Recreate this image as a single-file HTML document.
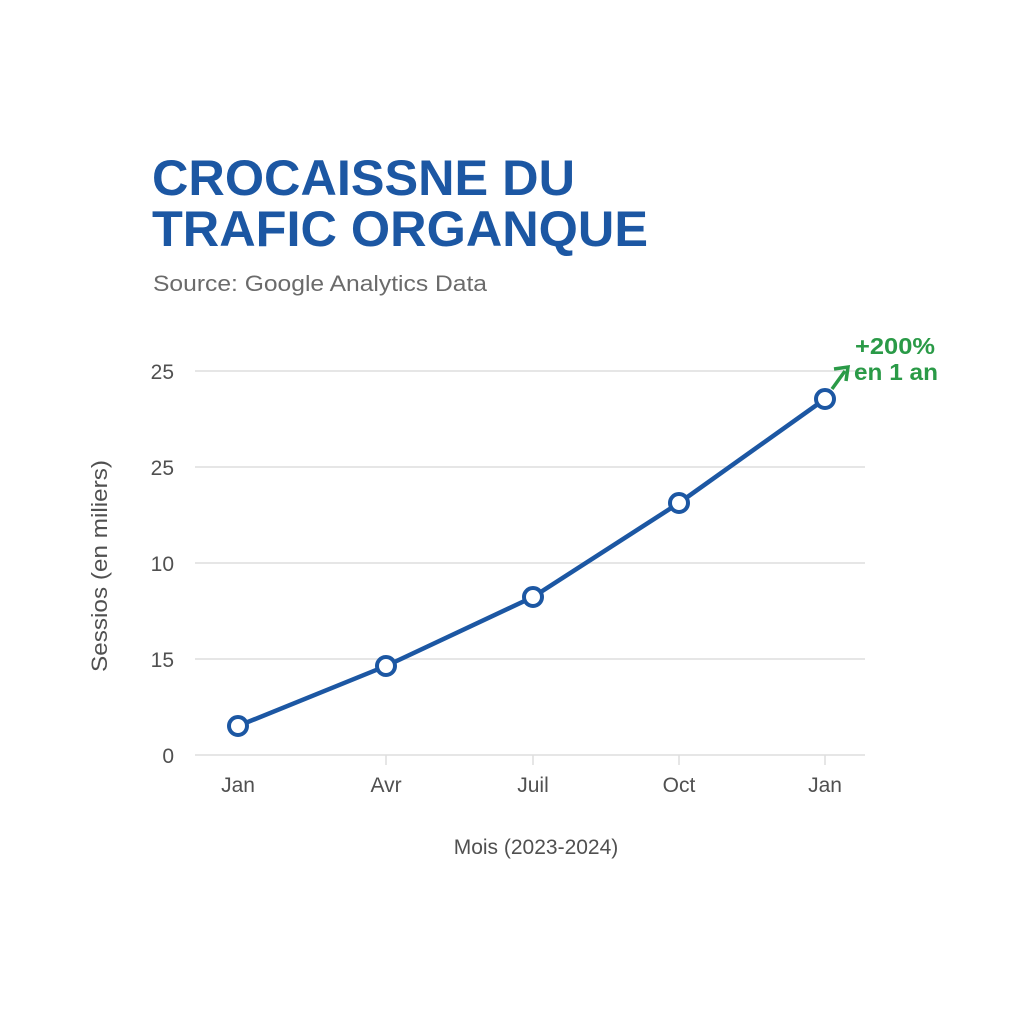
<!DOCTYPE html>
<html><head><style>
html,body{margin:0;padding:0;background:#fff;}
svg{display:block;}
</style></head><body>
<svg width="1024" height="1024" viewBox="0 0 1024 1024" xmlns="http://www.w3.org/2000/svg">
<rect width="1024" height="1024" fill="#fff"/>
<g font-family="Liberation Sans, sans-serif">
<text x="152" y="195" font-size="50" font-weight="bold" fill="#1c57a3" textLength="423" lengthAdjust="spacingAndGlyphs">CROCAISSNE DU</text>
<text x="152" y="246" font-size="50" font-weight="bold" fill="#1c57a3" textLength="496" lengthAdjust="spacingAndGlyphs">TRAFIC ORGANQUE</text>
<text x="153" y="291" font-size="22" fill="#6b6b6b" textLength="334" lengthAdjust="spacingAndGlyphs">Source: Google Analytics Data</text>
<g stroke="#dedede" stroke-width="1.5">
<line x1="195" y1="371" x2="865" y2="371"/>
<line x1="195" y1="467" x2="865" y2="467"/>
<line x1="195" y1="563" x2="865" y2="563"/>
<line x1="195" y1="659" x2="865" y2="659"/>
<line x1="195" y1="755" x2="865" y2="755"/>
</g>
<g stroke="#dedede" stroke-width="1.5">
<line x1="386" y1="755" x2="386" y2="765"/><line x1="533" y1="755" x2="533" y2="765"/>
<line x1="679" y1="755" x2="679" y2="765"/><line x1="825" y1="755" x2="825" y2="765"/>
</g>
<g font-size="21" fill="#505050" text-anchor="end">
<text x="174" y="379">25</text><text x="174" y="475">25</text><text x="174" y="571">10</text>
<text x="174" y="667">15</text><text x="174" y="763">0</text>
</g>
<g font-size="21" fill="#505050" text-anchor="middle">
<text x="238" y="792">Jan</text><text x="386" y="792">Avr</text><text x="533" y="792">Juil</text>
<text x="679" y="792">Oct</text><text x="825" y="792">Jan</text>
<text x="536" y="854">Mois (2023-2024)</text>
<text transform="translate(107,566) rotate(-90)" font-size="22" textLength="212" lengthAdjust="spacingAndGlyphs">Sessios (en miliers)</text>
</g>
<polyline points="238,726 386,666 533,597 679,503 825,399" fill="none" stroke="#1c57a3" stroke-width="4.5" stroke-linejoin="round"/>
<g fill="#fff" stroke="#1c57a3" stroke-width="4">
<circle cx="238" cy="726" r="9"/><circle cx="386" cy="666" r="9"/><circle cx="533" cy="597" r="9"/>
<circle cx="679" cy="503" r="9"/><circle cx="825" cy="399" r="9"/>
</g>
<line x1="832" y1="389" x2="845" y2="371" stroke="#2a9a47" stroke-width="3.5"/>
<polyline points="834,369 848,367 846,381" fill="none" stroke="#2a9a47" stroke-width="3.5"/>
<g font-size="23" font-weight="bold" fill="#2a9a47">
<text x="855" y="354" textLength="80" lengthAdjust="spacingAndGlyphs">+200%</text><text x="854" y="380" textLength="84" lengthAdjust="spacingAndGlyphs">en 1 an</text>
</g>
</g>
</svg>
</body></html>
